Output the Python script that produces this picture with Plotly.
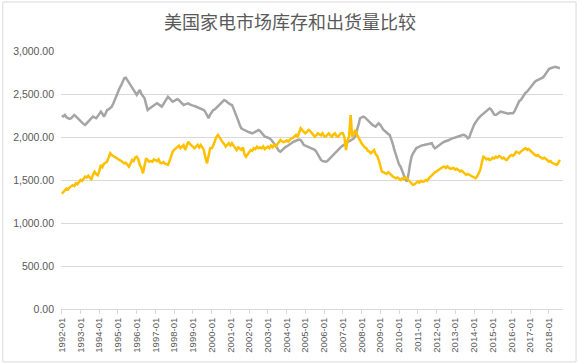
import plotly.graph_objects as go

title_text = "美国家电市场库存和出货量比较"

years = list(range(1992, 2019))
months = [f"{y}-{m:02d}" for y in years for m in range(1, 13)][:320]
tick_labels = [f"{y}-01" for y in years]

inventory = [
    2250, 2240, 2256, 2230, 2220, 2210, 2218, 2240, 2256, 2240, 2220, 2198,
    2180, 2160, 2150, 2140, 2160, 2190, 2198, 2220, 2237, 2225, 2218, 2240,
    2270, 2295, 2270, 2237, 2270, 2314, 2320, 2340, 2353, 2390, 2440, 2489,
    2520, 2567, 2600, 2640, 2683, 2690, 2660, 2625, 2600, 2570, 2547, 2520,
    2489, 2520, 2547, 2500, 2470, 2450, 2380, 2314, 2330, 2345, 2353, 2370,
    2380, 2392, 2380, 2360, 2353, 2380, 2410, 2440, 2469, 2450, 2430, 2411,
    2420, 2430, 2440, 2430, 2410, 2390, 2372, 2380, 2390, 2392, 2380, 2370,
    2365, 2360, 2353, 2345, 2340, 2330, 2320, 2314, 2290, 2260, 2218, 2260,
    2290, 2314, 2320, 2340, 2353, 2370, 2390, 2410, 2430, 2420, 2400, 2390,
    2380, 2372, 2330, 2290, 2237, 2190, 2140, 2101, 2090, 2080, 2070, 2063,
    2055, 2050, 2043, 2050, 2060, 2070, 2082, 2070, 2050, 2030, 2004, 2000,
    1995, 1985, 1970, 1950, 1927, 1900, 1870, 1840, 1830, 1850, 1869, 1880,
    1890, 1900, 1910, 1927, 1940, 1950, 1960, 1965, 1970, 1965, 1940, 1907,
    1900, 1890, 1880, 1875, 1869, 1860, 1850, 1830, 1800, 1770, 1733, 1720,
    1715, 1713, 1720, 1740, 1752, 1770, 1791, 1810, 1830, 1850, 1870, 1888,
    1900, 1915, 1930, 1946, 1950, 1960, 1970, 1985, 2010, 2063, 2140, 2218,
    2230, 2237, 2230, 2210, 2190, 2175, 2160, 2140, 2130, 2120, 2140, 2160,
    2140, 2110, 2082, 2070, 2050, 2035, 2024, 1980, 1920, 1849, 1790, 1730,
    1680, 1655, 1600, 1539, 1510, 1480, 1560, 1680, 1771, 1810, 1840, 1869,
    1880, 1890, 1900, 1905, 1907, 1912, 1918, 1920, 1925, 1927, 1890, 1869,
    1880, 1895, 1910, 1927, 1935, 1945, 1950, 1960, 1965, 1975, 1985, 1990,
    1995, 2000, 2004, 2010, 2020, 2025, 2020, 2010, 1985, 1995, 2050, 2100,
    2140, 2170, 2200, 2220, 2240, 2256, 2270, 2290, 2310, 2320, 2334, 2320,
    2290, 2260, 2256, 2270, 2285, 2295, 2290, 2285, 2280, 2278, 2270, 2276,
    2280, 2276, 2300, 2340, 2380, 2420, 2430, 2460, 2490, 2515, 2527, 2550,
    2580, 2610, 2630, 2644, 2655, 2665, 2675, 2683, 2690, 2710, 2740, 2770,
    2790, 2799, 2805, 2810, 2815, 2811, 2805, 2800,
]

shipments = [
    1340, 1365, 1380, 1400, 1390, 1415, 1425, 1440, 1430, 1462, 1450, 1480,
    1500, 1490, 1520, 1539, 1530, 1550, 1525, 1510, 1560, 1597, 1570, 1555,
    1600, 1675, 1650, 1690, 1700, 1713, 1760, 1811, 1790, 1780, 1771, 1760,
    1745, 1733, 1720, 1710, 1694, 1700, 1670, 1655, 1690, 1733, 1720, 1760,
    1771, 1740, 1675, 1640, 1578, 1660, 1752, 1730, 1713, 1720, 1713, 1740,
    1733, 1720, 1740, 1700, 1694, 1710, 1690, 1680, 1675, 1720, 1791, 1830,
    1850, 1869, 1880, 1900, 1870, 1890, 1907, 1849, 1900, 1946, 1920, 1900,
    1880, 1869, 1890, 1910, 1880, 1907, 1880, 1850, 1760, 1694, 1780, 1869,
    1869, 1900, 1950, 2000, 2024, 1990, 1965, 1940, 1920, 1888, 1910, 1927,
    1900, 1927, 1900, 1870, 1849, 1880, 1869, 1850, 1880, 1800, 1771, 1800,
    1820, 1849, 1840, 1870, 1860, 1888, 1870, 1880, 1869, 1890, 1860, 1880,
    1888, 1870, 1900, 1880, 1907, 1890, 1920, 1940, 1965, 1950, 1940, 1946,
    1960, 1946, 1970, 1985, 1990, 2010, 2024, 2000, 2050, 2101, 2080, 2060,
    2043, 2060, 2082, 2070, 2050, 2030, 2004, 2020, 2043, 2030, 2020, 2043,
    2010, 2004, 2030, 2043, 2020, 2004, 2030, 2043, 2010, 2004, 2030, 2043,
    2043, 2000, 1849, 1960, 2004, 2256, 2004, 2050, 2082, 2030, 1985, 1960,
    1927, 1900, 1880, 1869, 1840, 1830, 1811, 1830, 1849, 1800, 1780, 1733,
    1650, 1597, 1590, 1580, 1570, 1590, 1578, 1560, 1540, 1530, 1520, 1530,
    1510, 1500, 1520, 1510, 1530, 1520, 1500, 1480, 1460, 1442, 1450, 1470,
    1481, 1470, 1490, 1480, 1481, 1500, 1490, 1520, 1539, 1550, 1570, 1590,
    1600, 1617, 1630, 1640, 1650, 1655, 1640, 1660, 1640, 1630, 1636, 1640,
    1620, 1630, 1617, 1600, 1610, 1590, 1580, 1560, 1570, 1558, 1550, 1540,
    1530, 1520, 1540, 1580, 1617, 1700, 1771, 1760, 1740, 1750, 1733, 1740,
    1760, 1750, 1771, 1760, 1780, 1771, 1750, 1760, 1740, 1733, 1760, 1780,
    1791, 1780, 1800, 1830, 1820, 1810, 1830, 1850, 1860, 1869, 1850, 1860,
    1840, 1820, 1800, 1791, 1780, 1790, 1771, 1760, 1750, 1760, 1740, 1730,
    1713, 1720, 1700, 1690, 1680, 1675, 1700, 1733,
]

y_ticks = [0, 500, 1000, 1500, 2000, 2500, 3000]

fig = go.Figure()
fig.add_trace(go.Scatter(x=months, y=inventory, mode="lines", name="库存",
                         line=dict(color="#A5A5A5", width=2.5)))
fig.add_trace(go.Scatter(x=months, y=shipments, mode="lines", name="出货量",
                         line=dict(color="#FFC000", width=2.5)))

fig.update_layout(
    width=580, height=363,
    margin=dict(l=61, r=17, t=51, b=54),
    paper_bgcolor="white", plot_bgcolor="white",
    showlegend=False,
    title=dict(text=title_text, x=0.5, xanchor="center", y=0.937, yanchor="middle",
               font=dict(family="Noto Sans CJK SC", size=18, color="#595959")),
    font=dict(family="Liberation Sans, Arial", size=10, color="#595959"),
)
fig.update_xaxes(
    type="category", range=[-0.5, 321], automargin=False,
    tickmode="array", tickvals=tick_labels, ticktext=tick_labels,
    tickangle=-90, tickfont=dict(size=9.5, color="#595959"),
    showgrid=False, showline=True, linecolor="#D9D9D9", linewidth=1,
    ticks="outside", ticklen=4, tickcolor="#D9D9D9",
)
fig.update_yaxes(
    range=[0, 3000], tickvals=y_ticks, tickformat=",.2f", automargin=False,
    tickfont=dict(size=10.5, color="#595959"),
    showgrid=True, gridcolor="#D9D9D9", gridwidth=1,
    zeroline=False, showline=False, ticks="", ticklabelstandoff=6,
)
fig.add_shape(type="rect", xref="paper", yref="paper",
              x0=-0.116, x1=1.026, y0=-0.205, y1=1.19,
              line=dict(color="#D9D9D9", width=1))

fig.write_html("out.html", config={"displayModeBar": False},
               post_script="document.body.style.margin='0';")
